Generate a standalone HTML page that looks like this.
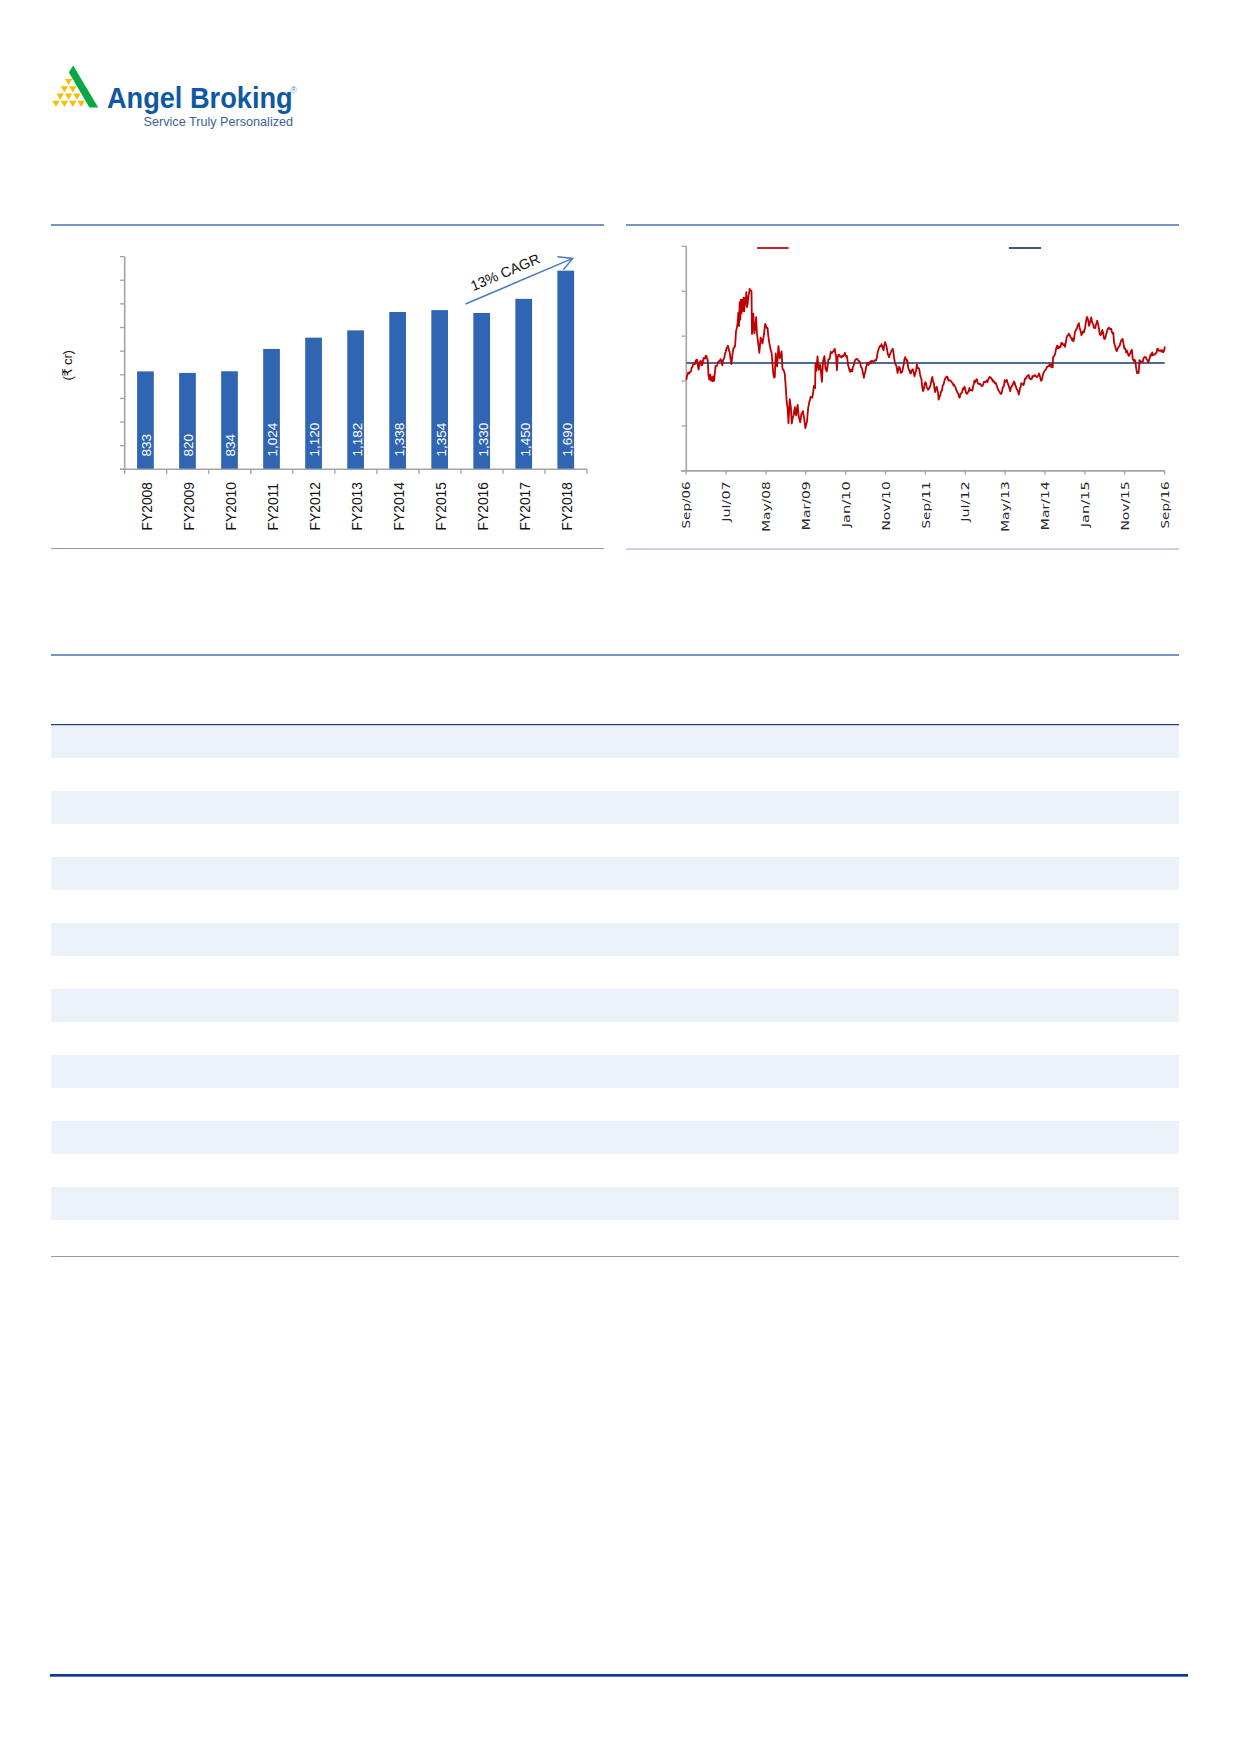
<!DOCTYPE html>
<html><head><meta charset="utf-8"><title>Angel Broking</title>
<style>
html,body{margin:0;padding:0;background:#fff;}
body{width:1240px;height:1754px;position:relative;overflow:hidden;font-family:"Liberation Sans",sans-serif;}
svg{position:absolute;left:0;top:0;}
</style></head><body>
<svg width="1240" height="1754" viewBox="0 0 1240 1754">
<polygon points="73.2,65.4 98.2,107.6 89.4,107.6 68.8,72.2" fill="#0aa843"/>
<polygon points="64.95,78.90 72.25,78.90 68.60,85.30" fill="#f8bb06"/>
<polygon points="60.75,86.17 68.05,86.17 64.40,92.57" fill="#f8bb06"/>
<polygon points="69.15,86.17 76.45,86.17 72.80,92.57" fill="#f8bb06"/>
<polygon points="56.55,93.44 63.85,93.44 60.20,99.84" fill="#f8bb06"/>
<polygon points="64.95,93.44 72.25,93.44 68.60,99.84" fill="#f8bb06"/>
<polygon points="73.35,93.44 80.65,93.44 77.00,99.84" fill="#f8bb06"/>
<polygon points="52.35,100.71 59.65,100.71 56.00,107.11" fill="#f8bb06"/>
<polygon points="60.75,100.71 68.05,100.71 64.40,107.11" fill="#f8bb06"/>
<polygon points="69.15,100.71 76.45,100.71 72.80,107.11" fill="#f8bb06"/>
<polygon points="77.55,100.71 84.85,100.71 81.20,107.11" fill="#f8bb06"/>
<text x="106.9" y="107.7" font-family="Liberation Sans, sans-serif" font-weight="bold" font-size="28.6" fill="#0f58a4" textLength="185.8" lengthAdjust="spacingAndGlyphs">Angel Broking</text>
<text x="290.6" y="93.4" font-family="Liberation Sans, sans-serif" font-size="8.6" fill="#6f8fbf">&#174;</text>
<text x="143.6" y="125.6" font-family="Liberation Sans, sans-serif" font-size="12.6" fill="#3e5f96" textLength="149.5" lengthAdjust="spacingAndGlyphs">Service Truly Personalized</text>
<rect x="51" y="224" width="553" height="2" fill="#7596c3"/>
<rect x="626" y="224" width="553" height="2" fill="#7596c3"/>
<rect x="51" y="548" width="553" height="1" fill="#8c9cb6"/>
<rect x="626" y="548.4" width="553" height="1.3" fill="#aebbe0"/>
<rect x="51" y="654" width="1128" height="2" fill="#7596c3"/>
<rect x="51" y="725" width="1128" height="33" fill="#eaf1f9"/>
<rect x="51" y="791" width="1128" height="33" fill="#eaf1f9"/>
<rect x="51" y="857" width="1128" height="33" fill="#eaf1f9"/>
<rect x="51" y="923" width="1128" height="33" fill="#eaf1f9"/>
<rect x="51" y="989" width="1128" height="33" fill="#eaf1f9"/>
<rect x="51" y="1055" width="1128" height="33" fill="#eaf1f9"/>
<rect x="51" y="1121" width="1128" height="33" fill="#eaf1f9"/>
<rect x="51" y="1187" width="1128" height="33" fill="#eaf1f9"/>
<rect x="51" y="724" width="1128" height="1.2" fill="#213f6f"/>
<rect x="51" y="1256" width="1128" height="1" fill="#8d9db8"/>
<rect x="50" y="1674" width="1138" height="2.7" fill="#0a3b8f"/>
<line x1="124.70" y1="256.60" x2="124.70" y2="469.30" stroke="#a3a3a3" stroke-width="1.6"/>
<line x1="120" y1="256.60" x2="124.70" y2="256.60" stroke="#a3a3a3" stroke-width="1.3"/>
<line x1="120" y1="280.23" x2="124.70" y2="280.23" stroke="#a3a3a3" stroke-width="1.3"/>
<line x1="120" y1="303.87" x2="124.70" y2="303.87" stroke="#a3a3a3" stroke-width="1.3"/>
<line x1="120" y1="327.50" x2="124.70" y2="327.50" stroke="#a3a3a3" stroke-width="1.3"/>
<line x1="120" y1="351.13" x2="124.70" y2="351.13" stroke="#a3a3a3" stroke-width="1.3"/>
<line x1="120" y1="374.77" x2="124.70" y2="374.77" stroke="#a3a3a3" stroke-width="1.3"/>
<line x1="120" y1="398.40" x2="124.70" y2="398.40" stroke="#a3a3a3" stroke-width="1.3"/>
<line x1="120" y1="422.03" x2="124.70" y2="422.03" stroke="#a3a3a3" stroke-width="1.3"/>
<line x1="120" y1="445.67" x2="124.70" y2="445.67" stroke="#a3a3a3" stroke-width="1.3"/>
<line x1="120" y1="469.30" x2="124.70" y2="469.30" stroke="#a3a3a3" stroke-width="1.3"/>
<line x1="120" y1="469.30" x2="587.03" y2="469.30" stroke="#a3a3a3" stroke-width="1.6"/>
<line x1="124.70" y1="469.30" x2="124.70" y2="474" stroke="#a3a3a3" stroke-width="1.3"/>
<line x1="166.73" y1="469.30" x2="166.73" y2="474" stroke="#a3a3a3" stroke-width="1.3"/>
<line x1="208.76" y1="469.30" x2="208.76" y2="474" stroke="#a3a3a3" stroke-width="1.3"/>
<line x1="250.79" y1="469.30" x2="250.79" y2="474" stroke="#a3a3a3" stroke-width="1.3"/>
<line x1="292.82" y1="469.30" x2="292.82" y2="474" stroke="#a3a3a3" stroke-width="1.3"/>
<line x1="334.85" y1="469.30" x2="334.85" y2="474" stroke="#a3a3a3" stroke-width="1.3"/>
<line x1="376.88" y1="469.30" x2="376.88" y2="474" stroke="#a3a3a3" stroke-width="1.3"/>
<line x1="418.91" y1="469.30" x2="418.91" y2="474" stroke="#a3a3a3" stroke-width="1.3"/>
<line x1="460.94" y1="469.30" x2="460.94" y2="474" stroke="#a3a3a3" stroke-width="1.3"/>
<line x1="502.97" y1="469.30" x2="502.97" y2="474" stroke="#a3a3a3" stroke-width="1.3"/>
<line x1="545.00" y1="469.30" x2="545.00" y2="474" stroke="#a3a3a3" stroke-width="1.3"/>
<line x1="587.03" y1="469.30" x2="587.03" y2="474" stroke="#a3a3a3" stroke-width="1.3"/>
<rect x="137.10" y="371.38" width="16.7" height="97.32" fill="#2f65b2"/>
<text transform="translate(151.35,456.6) rotate(-90)" font-family="Liberation Sans, sans-serif" font-size="13.5" fill="#ffffff">833</text>
<text transform="translate(151.72,530.4) rotate(-90)" font-family="Liberation Sans, sans-serif" font-size="13.8" fill="#111">FY2008</text>
<rect x="179.13" y="372.91" width="16.7" height="95.79" fill="#2f65b2"/>
<text transform="translate(193.38,456.6) rotate(-90)" font-family="Liberation Sans, sans-serif" font-size="13.5" fill="#ffffff">820</text>
<text transform="translate(193.75,530.4) rotate(-90)" font-family="Liberation Sans, sans-serif" font-size="13.8" fill="#111">FY2009</text>
<rect x="221.16" y="371.26" width="16.7" height="97.44" fill="#2f65b2"/>
<text transform="translate(235.41,456.6) rotate(-90)" font-family="Liberation Sans, sans-serif" font-size="13.5" fill="#ffffff">834</text>
<text transform="translate(235.77,530.4) rotate(-90)" font-family="Liberation Sans, sans-serif" font-size="13.8" fill="#111">FY2010</text>
<rect x="263.19" y="348.93" width="16.7" height="119.77" fill="#2f65b2"/>
<text transform="translate(277.44,456.6) rotate(-90)" font-family="Liberation Sans, sans-serif" font-size="13.5" fill="#ffffff">1,024</text>
<text transform="translate(277.81,530.4) rotate(-90)" font-family="Liberation Sans, sans-serif" font-size="13.8" fill="#111">FY2011</text>
<rect x="305.22" y="337.64" width="16.7" height="131.06" fill="#2f65b2"/>
<text transform="translate(319.47,456.6) rotate(-90)" font-family="Liberation Sans, sans-serif" font-size="13.5" fill="#ffffff">1,120</text>
<text transform="translate(319.83,530.4) rotate(-90)" font-family="Liberation Sans, sans-serif" font-size="13.8" fill="#111">FY2012</text>
<rect x="347.25" y="330.36" width="16.7" height="138.34" fill="#2f65b2"/>
<text transform="translate(361.50,456.6) rotate(-90)" font-family="Liberation Sans, sans-serif" font-size="13.5" fill="#ffffff">1,182</text>
<text transform="translate(361.87,530.4) rotate(-90)" font-family="Liberation Sans, sans-serif" font-size="13.8" fill="#111">FY2013</text>
<rect x="389.28" y="312.02" width="16.7" height="156.68" fill="#2f65b2"/>
<text transform="translate(403.53,456.6) rotate(-90)" font-family="Liberation Sans, sans-serif" font-size="13.5" fill="#ffffff">1,338</text>
<text transform="translate(403.89,530.4) rotate(-90)" font-family="Liberation Sans, sans-serif" font-size="13.8" fill="#111">FY2014</text>
<rect x="431.31" y="310.14" width="16.7" height="158.56" fill="#2f65b2"/>
<text transform="translate(445.56,456.6) rotate(-90)" font-family="Liberation Sans, sans-serif" font-size="13.5" fill="#ffffff">1,354</text>
<text transform="translate(445.93,530.4) rotate(-90)" font-family="Liberation Sans, sans-serif" font-size="13.8" fill="#111">FY2015</text>
<rect x="473.34" y="312.96" width="16.7" height="155.74" fill="#2f65b2"/>
<text transform="translate(487.59,456.6) rotate(-90)" font-family="Liberation Sans, sans-serif" font-size="13.5" fill="#ffffff">1,330</text>
<text transform="translate(487.95,530.4) rotate(-90)" font-family="Liberation Sans, sans-serif" font-size="13.8" fill="#111">FY2016</text>
<rect x="515.37" y="298.85" width="16.7" height="169.85" fill="#2f65b2"/>
<text transform="translate(529.62,456.6) rotate(-90)" font-family="Liberation Sans, sans-serif" font-size="13.5" fill="#ffffff">1,450</text>
<text transform="translate(529.99,530.4) rotate(-90)" font-family="Liberation Sans, sans-serif" font-size="13.8" fill="#111">FY2017</text>
<rect x="557.40" y="270.64" width="16.7" height="198.06" fill="#2f65b2"/>
<text transform="translate(571.65,456.6) rotate(-90)" font-family="Liberation Sans, sans-serif" font-size="13.5" fill="#ffffff">1,690</text>
<text transform="translate(572.01,530.4) rotate(-90)" font-family="Liberation Sans, sans-serif" font-size="13.8" fill="#111">FY2018</text>
<text transform="translate(72.3,365.3) rotate(-90)" text-anchor="middle" font-family="Liberation Sans, DejaVu Sans, sans-serif" font-size="13.4" fill="#111" textLength="30.5" lengthAdjust="spacing">(&#8377; cr)</text>
<line x1="465.5" y1="304" x2="572.7" y2="258.4" stroke="#4a7bc1" stroke-width="1.5"/>
<polyline points="557.3,256.8 572.7,258.4 563.3,269.8" fill="none" stroke="#4a7bc1" stroke-width="1.5"/>
<text transform="translate(473.3,291.2) rotate(-23.04)" font-family="Liberation Sans, sans-serif" font-size="14.3" fill="#111" textLength="73.5" lengthAdjust="spacingAndGlyphs">13% CAGR</text>
<line x1="686.30" y1="246.30" x2="686.30" y2="470.90" stroke="#a3a3a3" stroke-width="1.6"/>
<line x1="681.5" y1="246.30" x2="686.30" y2="246.30" stroke="#a3a3a3" stroke-width="1.3"/>
<line x1="681.5" y1="291.22" x2="686.30" y2="291.22" stroke="#a3a3a3" stroke-width="1.3"/>
<line x1="681.5" y1="336.14" x2="686.30" y2="336.14" stroke="#a3a3a3" stroke-width="1.3"/>
<line x1="681.5" y1="381.06" x2="686.30" y2="381.06" stroke="#a3a3a3" stroke-width="1.3"/>
<line x1="681.5" y1="425.98" x2="686.30" y2="425.98" stroke="#a3a3a3" stroke-width="1.3"/>
<line x1="681.5" y1="470.90" x2="686.30" y2="470.90" stroke="#a3a3a3" stroke-width="1.3"/>
<line x1="681.3" y1="470.90" x2="1164.9" y2="470.90" stroke="#a3a3a3" stroke-width="1.6"/>
<line x1="686.10" y1="470.90" x2="686.10" y2="474.6" stroke="#a3a3a3" stroke-width="1.3"/>
<text transform="translate(690.30,481.3) rotate(-90)" text-anchor="end" font-family="DejaVu Sans, sans-serif" font-size="10.4" fill="#262626" textLength="47.2" lengthAdjust="spacingAndGlyphs">Sep/06</text>
<line x1="725.98" y1="470.90" x2="725.98" y2="474.6" stroke="#a3a3a3" stroke-width="1.3"/>
<text transform="translate(730.18,481.3) rotate(-90)" text-anchor="end" font-family="DejaVu Sans, sans-serif" font-size="10.4" fill="#262626" textLength="40.5" lengthAdjust="spacingAndGlyphs">Jul/07</text>
<line x1="765.87" y1="470.90" x2="765.87" y2="474.6" stroke="#a3a3a3" stroke-width="1.3"/>
<text transform="translate(770.07,481.3) rotate(-90)" text-anchor="end" font-family="DejaVu Sans, sans-serif" font-size="10.4" fill="#262626" textLength="50.5" lengthAdjust="spacingAndGlyphs">May/08</text>
<line x1="805.75" y1="470.90" x2="805.75" y2="474.6" stroke="#a3a3a3" stroke-width="1.3"/>
<text transform="translate(809.95,481.3) rotate(-90)" text-anchor="end" font-family="DejaVu Sans, sans-serif" font-size="10.4" fill="#262626" textLength="48.9" lengthAdjust="spacingAndGlyphs">Mar/09</text>
<line x1="845.63" y1="470.90" x2="845.63" y2="474.6" stroke="#a3a3a3" stroke-width="1.3"/>
<text transform="translate(849.83,481.3) rotate(-90)" text-anchor="end" font-family="DejaVu Sans, sans-serif" font-size="10.4" fill="#262626" textLength="46.0" lengthAdjust="spacingAndGlyphs">Jan/10</text>
<line x1="885.52" y1="470.90" x2="885.52" y2="474.6" stroke="#a3a3a3" stroke-width="1.3"/>
<text transform="translate(889.72,481.3) rotate(-90)" text-anchor="end" font-family="DejaVu Sans, sans-serif" font-size="10.4" fill="#262626" textLength="49.2" lengthAdjust="spacingAndGlyphs">Nov/10</text>
<line x1="925.40" y1="470.90" x2="925.40" y2="474.6" stroke="#a3a3a3" stroke-width="1.3"/>
<text transform="translate(929.60,481.3) rotate(-90)" text-anchor="end" font-family="DejaVu Sans, sans-serif" font-size="10.4" fill="#262626" textLength="47.2" lengthAdjust="spacingAndGlyphs">Sep/11</text>
<line x1="965.28" y1="470.90" x2="965.28" y2="474.6" stroke="#a3a3a3" stroke-width="1.3"/>
<text transform="translate(969.48,481.3) rotate(-90)" text-anchor="end" font-family="DejaVu Sans, sans-serif" font-size="10.4" fill="#262626" textLength="40.5" lengthAdjust="spacingAndGlyphs">Jul/12</text>
<line x1="1005.17" y1="470.90" x2="1005.17" y2="474.6" stroke="#a3a3a3" stroke-width="1.3"/>
<text transform="translate(1009.37,481.3) rotate(-90)" text-anchor="end" font-family="DejaVu Sans, sans-serif" font-size="10.4" fill="#262626" textLength="50.5" lengthAdjust="spacingAndGlyphs">May/13</text>
<line x1="1045.05" y1="470.90" x2="1045.05" y2="474.6" stroke="#a3a3a3" stroke-width="1.3"/>
<text transform="translate(1049.25,481.3) rotate(-90)" text-anchor="end" font-family="DejaVu Sans, sans-serif" font-size="10.4" fill="#262626" textLength="48.9" lengthAdjust="spacingAndGlyphs">Mar/14</text>
<line x1="1084.93" y1="470.90" x2="1084.93" y2="474.6" stroke="#a3a3a3" stroke-width="1.3"/>
<text transform="translate(1089.13,481.3) rotate(-90)" text-anchor="end" font-family="DejaVu Sans, sans-serif" font-size="10.4" fill="#262626" textLength="46.0" lengthAdjust="spacingAndGlyphs">Jan/15</text>
<line x1="1124.82" y1="470.90" x2="1124.82" y2="474.6" stroke="#a3a3a3" stroke-width="1.3"/>
<text transform="translate(1129.02,481.3) rotate(-90)" text-anchor="end" font-family="DejaVu Sans, sans-serif" font-size="10.4" fill="#262626" textLength="49.2" lengthAdjust="spacingAndGlyphs">Nov/15</text>
<line x1="1164.70" y1="470.90" x2="1164.70" y2="474.6" stroke="#a3a3a3" stroke-width="1.3"/>
<text transform="translate(1168.90,481.3) rotate(-90)" text-anchor="end" font-family="DejaVu Sans, sans-serif" font-size="10.4" fill="#262626" textLength="47.2" lengthAdjust="spacingAndGlyphs">Sep/16</text>
<line x1="686.3" y1="363" x2="1164.7" y2="363" stroke="#4d6a93" stroke-width="1.8"/>
<polyline points="686.30,379.84 686.95,376.08 687.60,374.48 688.30,372.38 689.00,373.61 689.70,372.82 690.40,371.59 691.00,371.22 691.60,367.92 692.20,367.39 692.90,365.07 693.60,363.99 694.30,363.91 695.00,364.05 695.73,360.60 696.47,359.71 697.20,359.81 697.90,365.83 698.60,369.65 699.30,364.52 700.00,361.82 700.73,360.68 701.47,365.11 702.20,365.13 702.90,361.46 703.60,358.18 704.30,357.86 705.00,358.56 705.70,355.60 706.40,355.96 707.05,358.44 707.70,359.89 708.50,375.15 709.30,379.60 710.20,374.59 711.00,380.56 711.80,377.08 712.60,381.27 713.40,376.41 714.10,380.77 714.80,373.45 715.50,366.06 716.40,366.29 717.30,364.64 717.94,362.08 718.58,362.04 719.22,360.78 719.86,360.80 720.50,359.23 721.40,360.52 722.30,365.44 722.97,360.40 723.65,359.09 724.33,357.90 725.00,353.69 725.70,352.26 726.40,348.33 727.10,347.84 727.80,345.65 728.40,347.47 729.00,350.87 729.60,351.50 730.50,358.62 731.40,364.20 732.03,358.69 732.67,352.83 733.30,348.59 733.90,348.32 734.50,346.22 735.10,346.23 736.00,331.49 736.90,327.64 737.80,321.57 738.30,312.58 739.00,326.03 739.70,302.31 740.30,319.63 740.80,299.54 741.50,313.47 742.00,299.88 742.80,310.94 743.50,297.77 744.20,311.39 745.00,297.86 745.60,304.81 746.30,292.19 747.00,307.05 747.67,303.91 748.35,296.71 749.03,293.21 749.70,288.86 750.60,290.58 751.50,291.02 752.00,334.06 752.65,322.64 753.30,313.53 754.30,333.35 754.90,329.86 755.50,324.93 756.10,317.18 757.00,333.66 757.77,339.94 758.53,346.05 759.30,352.95 759.95,345.99 760.60,337.64 761.23,338.65 761.87,341.81 762.50,343.48 763.17,339.09 763.85,335.30 764.53,329.43 765.20,323.85 765.97,326.01 766.73,328.03 767.50,327.87 768.40,336.93 769.30,342.90 770.07,346.87 770.83,350.29 771.60,352.66 772.50,364.08 773.40,374.53 774.10,377.58 774.80,377.10 775.70,353.42 776.40,360.27 777.10,366.52 777.75,357.04 778.40,346.07 779.10,351.85 779.80,358.28 780.40,355.99 781.00,354.70 781.60,351.48 782.40,368.00 783.20,369.83 784.00,371.01 784.80,374.01 785.40,382.41 786.00,390.57 786.50,399.39 787.10,404.97 787.70,408.68 788.50,423.09 789.10,411.85 789.70,399.27 790.90,407.43 791.70,423.50 792.90,416.85 793.57,415.69 794.23,410.58 794.90,407.17 795.50,413.39 796.10,415.29 796.90,408.82 797.70,404.84 798.50,415.29 799.35,418.89 800.20,422.33 801.40,413.86 802.20,412.93 803.00,411.14 803.60,415.52 804.20,418.93 805.40,428.17 806.20,424.15 807.00,421.69 807.60,414.20 808.20,407.81 809.40,401.60 810.00,399.75 810.60,396.93 811.45,397.18 812.30,397.62 813.10,392.52 813.90,386.03 814.50,387.76 815.10,388.04 815.50,363.69 816.30,370.89 816.90,364.04 817.50,356.33 818.10,363.37 818.70,369.86 819.50,365.78 820.30,364.90 821.10,373.56 821.90,381.96 822.50,370.77 823.10,361.01 823.75,358.63 824.40,356.13 825.00,361.80 825.60,368.80 826.80,371.28 827.60,365.84 828.40,359.43 829.00,359.19 829.60,358.86 830.80,351.77 831.40,352.99 832.00,353.16 832.60,352.13 833.20,351.40 834.00,350.13 834.80,348.77 835.40,353.58 836.00,354.96 836.90,370.16 837.70,357.01 838.37,354.90 839.03,354.65 839.70,356.13 840.37,356.75 841.03,356.31 841.70,357.51 842.50,355.58 843.30,356.00 844.10,355.28 844.90,352.77 845.57,355.48 846.23,356.50 846.90,356.00 847.50,359.87 848.10,365.36 848.75,367.22 849.40,370.05 850.20,371.91 851.00,369.68 851.60,369.69 852.20,371.39 852.87,367.09 853.53,365.79 854.20,362.94 855.00,360.18 855.80,359.51 856.60,358.84 857.40,359.07 858.20,360.58 858.87,360.60 859.53,362.17 860.20,362.32 860.90,366.98 861.60,367.37 862.30,369.87 863.10,373.52 863.90,377.79 864.50,373.80 865.10,372.94 865.77,368.91 866.43,366.30 867.10,363.58 867.90,362.81 868.70,365.01 869.50,363.09 870.30,361.41 871.10,362.86 871.90,360.58 872.70,361.28 873.50,361.82 874.12,361.08 874.75,360.14 875.38,360.56 876.00,360.48 876.80,358.01 877.60,352.64 878.60,349.19 879.33,347.00 880.05,345.89 880.77,346.27 881.50,344.22 882.17,346.00 882.83,348.23 883.50,350.32 884.30,345.22 885.10,342.16 885.90,344.62 886.70,347.44 887.90,354.52 888.50,355.35 889.10,357.21 889.90,354.23 890.70,352.91 891.37,350.77 892.03,349.97 892.70,348.81 893.35,351.48 894.00,357.29 894.80,361.72 895.60,364.59 896.27,365.57 896.93,368.76 897.60,373.01 898.40,369.03 899.20,366.77 900.00,368.63 900.80,372.94 901.47,372.51 902.13,372.07 902.80,368.89 903.60,365.04 904.40,359.21 905.20,357.16 906.00,359.13 906.65,361.00 907.30,360.20 908.10,367.00 908.90,369.67 909.57,370.76 910.23,373.17 910.90,373.46 911.57,370.25 912.23,370.05 912.90,369.25 913.70,372.74 914.50,376.33 915.30,372.95 916.10,370.48 916.90,364.46 917.52,367.37 918.15,368.21 918.77,368.06 919.40,370.26 920.07,374.43 920.73,377.31 921.40,379.11 922.20,386.90 923.00,391.12 923.80,389.28 924.60,384.07 925.40,382.15 926.10,383.45 926.80,387.84 927.50,388.24 928.20,389.81 929.00,388.32 929.80,387.45 930.60,384.72 931.45,380.13 932.30,376.98 933.10,381.84 933.90,383.13 934.50,388.79 935.10,392.09 935.90,388.33 936.70,386.70 937.37,389.89 938.03,392.80 938.70,399.60 939.50,396.76 940.30,395.43 941.10,391.27 941.90,390.77 942.70,385.28 943.50,384.86 944.23,381.53 944.95,379.14 945.67,377.79 946.40,376.97 947.07,376.49 947.73,377.68 948.40,380.59 949.04,380.14 949.68,380.21 950.32,380.86 950.96,380.98 951.60,381.95 952.24,382.94 952.88,383.56 953.52,385.65 954.16,384.79 954.80,386.10 955.50,387.24 956.20,389.94 956.90,391.06 957.60,393.00 958.30,393.45 959.00,396.95 959.70,397.56 960.50,394.27 961.30,393.05 962.10,392.39 962.90,388.37 963.70,389.29 964.50,386.68 965.30,389.32 966.10,392.84 966.90,393.86 967.52,392.80 968.15,391.95 968.77,391.47 969.40,388.00 970.00,390.06 970.60,390.16 971.20,390.44 971.80,390.20 972.40,390.51 973.07,386.61 973.73,383.88 974.40,380.73 975.02,382.47 975.65,380.52 976.27,379.82 976.90,379.17 977.60,382.59 978.30,383.69 979.00,384.05 979.70,383.80 980.40,384.28 981.10,385.04 981.80,386.17 982.50,385.80 983.17,384.59 983.83,381.88 984.50,381.98 985.30,382.28 986.10,381.18 986.90,380.48 987.52,382.12 988.13,379.36 988.75,378.84 989.37,377.04 989.98,377.59 990.60,377.22 991.27,378.64 991.93,379.01 992.60,381.32 993.24,380.36 993.88,381.83 994.52,381.91 995.16,383.54 995.80,383.03 996.47,384.61 997.13,387.14 997.80,388.54 998.44,390.47 999.08,391.09 999.72,392.60 1000.36,393.10 1001.00,394.09 1001.70,392.71 1002.40,389.25 1003.10,387.14 1003.90,386.05 1004.70,380.18 1005.40,382.02 1006.10,381.76 1006.80,379.84 1007.50,382.37 1008.20,384.78 1008.90,386.16 1009.60,388.72 1010.30,391.20 1010.92,387.43 1011.53,387.04 1012.15,385.36 1012.77,384.81 1013.38,383.09 1014.00,381.54 1014.67,382.64 1015.33,385.49 1016.00,386.69 1016.70,389.14 1017.40,390.09 1018.10,391.87 1018.80,394.63 1019.40,392.13 1020.00,388.09 1020.60,387.20 1021.20,383.09 1022.00,383.84 1022.80,384.37 1023.60,385.08 1024.27,382.33 1024.93,378.64 1025.60,379.05 1026.22,378.07 1026.85,376.46 1027.47,375.74 1028.10,375.31 1028.70,374.84 1029.30,378.41 1029.90,378.28 1030.50,379.14 1031.14,378.61 1031.78,378.95 1032.42,376.14 1033.06,376.71 1033.70,376.32 1034.40,375.21 1035.10,375.27 1035.80,376.01 1036.50,377.09 1037.12,376.93 1037.75,376.02 1038.38,375.68 1039.00,373.45 1039.60,375.30 1040.20,377.26 1040.80,380.45 1041.40,380.67 1042.07,379.35 1042.73,375.41 1043.40,373.39 1044.20,371.66 1045.00,370.55 1045.60,369.81 1046.20,368.96 1046.80,366.93 1047.40,366.85 1048.20,366.15 1049.00,365.63 1049.80,363.98 1050.53,366.66 1051.25,364.64 1051.97,367.33 1052.70,367.40 1053.10,357.16 1053.77,356.44 1054.43,355.46 1055.10,353.80 1055.77,350.24 1056.43,347.76 1057.10,345.67 1057.70,348.43 1058.30,346.47 1058.90,348.06 1059.50,347.05 1060.10,346.88 1060.70,346.85 1061.30,342.82 1061.90,343.62 1062.52,343.23 1063.14,345.04 1063.76,345.05 1064.38,344.14 1065.00,346.87 1065.85,342.21 1066.70,337.38 1067.40,335.61 1068.10,335.47 1068.80,333.64 1069.65,335.27 1070.50,336.85 1071.10,338.02 1071.70,338.45 1072.30,340.65 1072.90,338.49 1073.50,341.40 1074.20,338.02 1074.90,332.05 1075.60,330.96 1076.28,329.08 1076.96,328.49 1077.64,325.33 1078.32,324.39 1079.00,323.26 1079.62,328.17 1080.25,329.84 1080.88,332.08 1081.50,335.27 1082.10,333.76 1082.70,332.01 1083.30,331.17 1083.90,332.49 1084.50,329.71 1085.12,328.42 1085.75,322.85 1086.38,319.53 1087.00,316.94 1087.70,318.44 1088.40,321.56 1089.10,325.96 1089.80,323.20 1090.50,320.43 1091.20,317.32 1091.88,320.76 1092.56,323.39 1093.24,324.68 1093.92,327.76 1094.60,328.16 1095.25,327.99 1095.90,324.74 1096.55,323.36 1097.20,320.66 1098.05,324.22 1098.90,328.16 1099.75,334.32 1100.60,335.11 1101.45,333.26 1102.30,329.90 1102.92,332.08 1103.55,335.81 1104.17,338.90 1104.80,338.93 1105.42,337.87 1106.05,334.41 1106.67,332.91 1107.30,330.06 1107.95,328.71 1108.60,328.07 1109.25,327.59 1109.90,329.20 1110.58,328.89 1111.26,329.00 1111.94,332.20 1112.62,333.49 1113.30,332.74 1114.10,342.85 1114.75,345.12 1115.40,346.89 1116.05,349.79 1116.70,351.09 1117.40,349.60 1118.10,347.69 1118.80,346.72 1119.50,346.04 1120.20,343.90 1120.90,341.12 1121.75,339.87 1122.60,338.98 1123.45,343.56 1124.30,348.48 1124.92,348.25 1125.55,349.59 1126.17,352.45 1126.80,350.40 1127.45,352.66 1128.10,354.11 1128.75,355.91 1129.40,354.89 1130.03,353.59 1130.65,352.05 1131.28,351.05 1131.90,349.73 1132.70,358.95 1133.35,359.89 1134.00,361.24 1134.65,359.79 1135.30,361.10 1136.15,367.92 1137.00,373.17 1137.85,372.21 1138.70,372.98 1139.50,360.10 1140.18,361.01 1140.86,362.39 1141.54,361.72 1142.22,361.48 1142.90,361.51 1143.50,358.54 1144.10,357.43 1144.70,356.91 1145.30,357.43 1145.90,357.28 1146.53,359.36 1147.15,359.91 1147.78,360.92 1148.40,362.55 1149.10,359.60 1149.80,357.93 1150.50,354.33 1151.35,355.45 1152.20,352.44 1152.85,355.27 1153.50,355.02 1154.15,354.55 1154.80,354.61 1155.42,353.53 1156.05,353.29 1156.67,352.01 1157.30,348.66 1157.98,348.77 1158.66,350.46 1159.34,350.89 1160.02,350.50 1160.70,350.22 1161.33,351.75 1161.95,350.18 1162.58,351.44 1163.20,352.27 1164.05,350.92 1164.90,346.50" fill="none" stroke="#c00000" stroke-width="1.80" stroke-linejoin="round"/>
<line x1="757" y1="248" x2="788.7" y2="248" stroke="#c0282d" stroke-width="2"/>
<line x1="1008.9" y1="248.1" x2="1041.1" y2="248.1" stroke="#3d5679" stroke-width="2"/>
</svg>
</body></html>
